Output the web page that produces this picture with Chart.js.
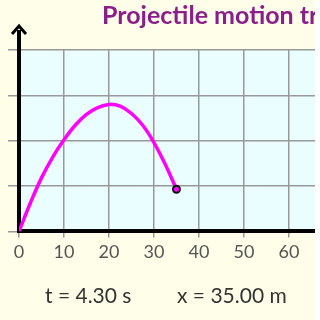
<!DOCTYPE html>
<html>
<head>
<meta charset="utf-8">
<script src="https://cdn.jsdelivr.net/npm/chart.js@4"></script>
<style>
  html, body { margin: 0; padding: 0; background: #ffffff; }
  #wrap { position: relative; width: 315px; height: 320px; overflow: hidden; background: #fffee8; }
  #title { position: absolute; left: 102px; top: -1px; white-space: nowrap; font: bold 25px Lato, sans-serif; color: #8a1f8a; }
  .info { position: absolute; top: 282px; white-space: nowrap; font: 21px Lato, sans-serif; color: #333; }
  canvas { position: absolute; left: 0; top: 0; }
</style>
</head>
<body>
<div id="wrap">
  <canvas id="c" width="321" height="320"></canvas>
  <div id="title">Projectile motion trajectory</div>
  <div class="info" style="left:45px">t = 4.30 s</div>
  <div class="info" style="left:177px">x = 35.00 m</div>
</div>
<script>
// positions along the path (m)
var xs = [0, 2.5, 5, 7.5, 10, 12.5, 15, 17.5, 20, 22.5, 25, 27.5, 30, 32.5, 35];
var ys = [0, 6.2, 11.8, 16.4, 20.2, 23.4, 25.8, 27.3, 28.0, 27.6, 26.0, 23.4, 19.6, 14.8, 9.3];
var xTicks = [0, 10, 20, 30, 40, 50, 60];

var pts = xs.map(function(x, i) { return { x: x, y: ys[i] }; });

var plotBg = {
  id: 'plotBg',
  beforeDraw: function(chart) {
    var a = chart.chartArea, ctx = chart.ctx;
    ctx.save();
    ctx.fillStyle = '#eafdff';
    ctx.fillRect(a.left, a.top, a.right - a.left, a.bottom - a.top);
    ctx.restore();
  },
  afterDraw: function(chart) {
    // arrow on top of the y axis
    var a = chart.chartArea, ctx = chart.ctx;
    ctx.save();
    ctx.strokeStyle = '#000';
    ctx.lineWidth = 4;
    ctx.beginPath();
    ctx.moveTo(a.left, a.top);
    ctx.lineTo(a.left, 30);
    ctx.stroke();
    ctx.lineWidth = 3;
    ctx.beginPath();
    ctx.moveTo(a.left - 7, 34);
    ctx.lineTo(a.left, 26);
    ctx.lineTo(a.left + 7, 34);
    ctx.stroke();
    ctx.restore();
  }
};

new Chart(document.getElementById('c'), {
  type: 'line',
  data: {
    datasets: [{
      data: pts,
      borderColor: '#ff00ff',
      borderWidth: 3.5,
      tension: 0.4,
      fill: false,
      pointRadius: function(ctx) { return ctx.dataIndex === pts.length - 1 ? 3.5 : 0; },
      pointBackgroundColor: '#ff00ff',
      pointBorderColor: '#111',
      pointBorderWidth: 2
    }]
  },
  options: {
    responsive: false,
    animation: false,
    layout: { padding: { left: 8, top: 50, right: 0, bottom: 53 } },
    plugins: { legend: { display: false }, tooltip: { enabled: false } },
    scales: {
      x: {
        type: 'linear',
        min: 0,
        max: 65.8,
        border: { color: '#000', width: 4 },
        grid: { color: '#999', lineWidth: 1.5, tickLength: 6 },
        afterBuildTicks: function(s) { s.ticks = xTicks.map(function(v) { return { value: v }; }); },
        ticks: { padding: 4, color: '#555', font: { family: 'Lato', size: 18 } }
      },
      y: {
        min: 0,
        max: 40,
        border: { color: '#000', width: 4 },
        grid: { color: '#999', lineWidth: 1.5, tickLength: 11 },
        ticks: { display: false, stepSize: 10 }
      }
    }
  },
  plugins: [plotBg]
});
</script>
</body>
</html>
